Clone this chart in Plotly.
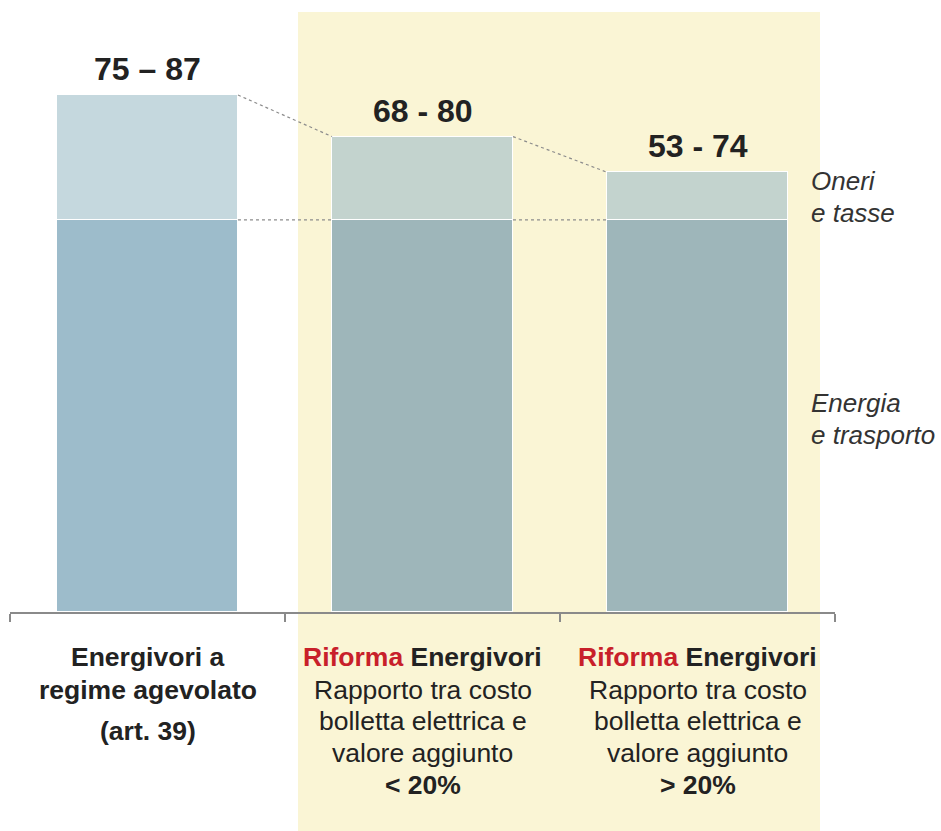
import plotly.graph_objects as go

# Cost ranges per scenario: stacked components (energy + transport, charges + taxes)
categories = ["Energivori a regime agevolato", "Riforma <20%", "Riforma >20%"]
range_labels = ["75 – 87", "68 - 80", "53 - 74"]
energia_trasporto = [66, 66, 66]
oneri_tasse = [21, 14, 8]

cat_lines = [
    [("<b>Energivori a</b>", 657), ("<b>regime agevolato</b>", 690), ("<b>(art. 39)</b>", 731)],
    [("<b><span style='color:#c8202a'>Riforma</span> Energivori</b>", 657),
     ("Rapporto tra costo", 690), ("bolletta elettrica e", 721),
     ("valore aggiunto", 753), ("<b>< 20%</b>", 785)],
    [("<b><span style='color:#c8202a'>Riforma</span> Energivori</b>", 657),
     ("Rapporto tra costo", 690), ("bolletta elettrica e", 721),
     ("valore aggiunto", 753), ("<b>> 20%</b>", 785)],
]

W, H = 941, 831
BASE_PX = 612          # pixel row of the category axis
PX_PER_UNIT = 517 / 87
BAR_W = 0.658
FONT = "Liberation Sans, Arial, sans-serif"
TXT = "#222222"

x = list(range(len(categories)))
totals = [a + b for a, b in zip(energia_trasporto, oneri_tasse)]


def py_to_paper(py):
    return (BASE_PX - py) / BASE_PX


fig = go.Figure()

fig.add_trace(go.Bar(
    x=x, y=energia_trasporto, width=BAR_W,
    marker=dict(color=["#9dbccb", "#9eb6ba", "#9eb6ba"],
                line=dict(color="white", width=1.5)),
    hoverinfo="skip", name="Energia e trasporto",
))
fig.add_trace(go.Bar(
    x=x, y=oneri_tasse, width=BAR_W,
    marker=dict(color=["#c5d8de", "#c3d3ce", "#c3d3ce"],
                line=dict(color="white", width=1.5)),
    hoverinfo="skip", name="Oneri e tasse",
))

# dotted connectors between adjacent bars: top edges and the component boundary
for i in range(len(x) - 1):
    fig.add_trace(go.Scatter(
        x=[x[i] + BAR_W / 2, x[i + 1] - BAR_W / 2], y=[totals[i], totals[i + 1]],
        mode="lines", line=dict(color="#8c8c8c", width=1.2, dash="dot"),
        hoverinfo="skip", showlegend=False,
    ))
    fig.add_trace(go.Scatter(
        x=[x[i] + BAR_W / 2, x[i + 1] - BAR_W / 2],
        y=[energia_trasporto[i], energia_trasporto[i + 1]],
        mode="lines", line=dict(color="#8c8c8c", width=1.2, dash="dot"),
        hoverinfo="skip", showlegend=False,
    ))

annotations = []
for i, lab in enumerate(range_labels):
    annotations.append(dict(
        x=x[i], y=totals[i], xref="x", yref="y", text=f"<b>{lab}</b>",
        showarrow=False, yanchor="bottom", yshift=6,
        font=dict(family=FONT, size=32, color=TXT),
    ))

for i, lines in enumerate(cat_lines):
    for txt, py in lines:
        annotations.append(dict(
            x=x[i], y=py_to_paper(py), xref="x", yref="paper", text=txt,
            showarrow=False, yanchor="middle", xanchor="center",
            font=dict(family=FONT, size=26.5, color=TXT),
        ))

for txt, py in [("<i>Oneri</i>", 181), ("<i>e tasse</i>", 213),
                ("<i>Energia</i>", 403), ("<i>e trasporto</i>", 435)]:
    annotations.append(dict(
        x=809, y=py_to_paper(py), xref="paper", yref="paper", text=txt,
        showarrow=False, yanchor="middle", xanchor="left",
        font=dict(family=FONT, size=26, color="#333333"),
    ))

# paper x in this layout is measured from the left margin (10 px); convert explicitly
for a in annotations:
    if a["xref"] == "paper":
        a["x"] = (a["x"] - 10) / 825

fig.update_layout(
    width=W, height=H, barmode="stack", showlegend=False,
    margin=dict(l=10, r=W - 835, t=0, b=H - BASE_PX),
    paper_bgcolor="white", plot_bgcolor="rgba(0,0,0,0)",
    bargap=0,
    xaxis=dict(range=[-0.5, 2.5], showgrid=False, zeroline=False,
               showline=True, linecolor="#8a8a8a", linewidth=1.5,
               ticks="outside", ticklen=8, tickwidth=1.5, tickcolor="#8a8a8a",
               tickvals=[-0.5, 0.5, 1.5, 2.5], showticklabels=False),
    yaxis=dict(range=[0, BASE_PX / PX_PER_UNIT], visible=False),
    annotations=annotations,
    shapes=[dict(
        type="rect", layer="below", xref="x", yref="paper",
        x0=(298 - 147.5) / 275, x1=(820 - 147.5) / 275,
        y0=py_to_paper(831), y1=py_to_paper(12),
        fillcolor="#faf5d5", line=dict(width=0),
    )],
)

fig.write_html("out.html")
